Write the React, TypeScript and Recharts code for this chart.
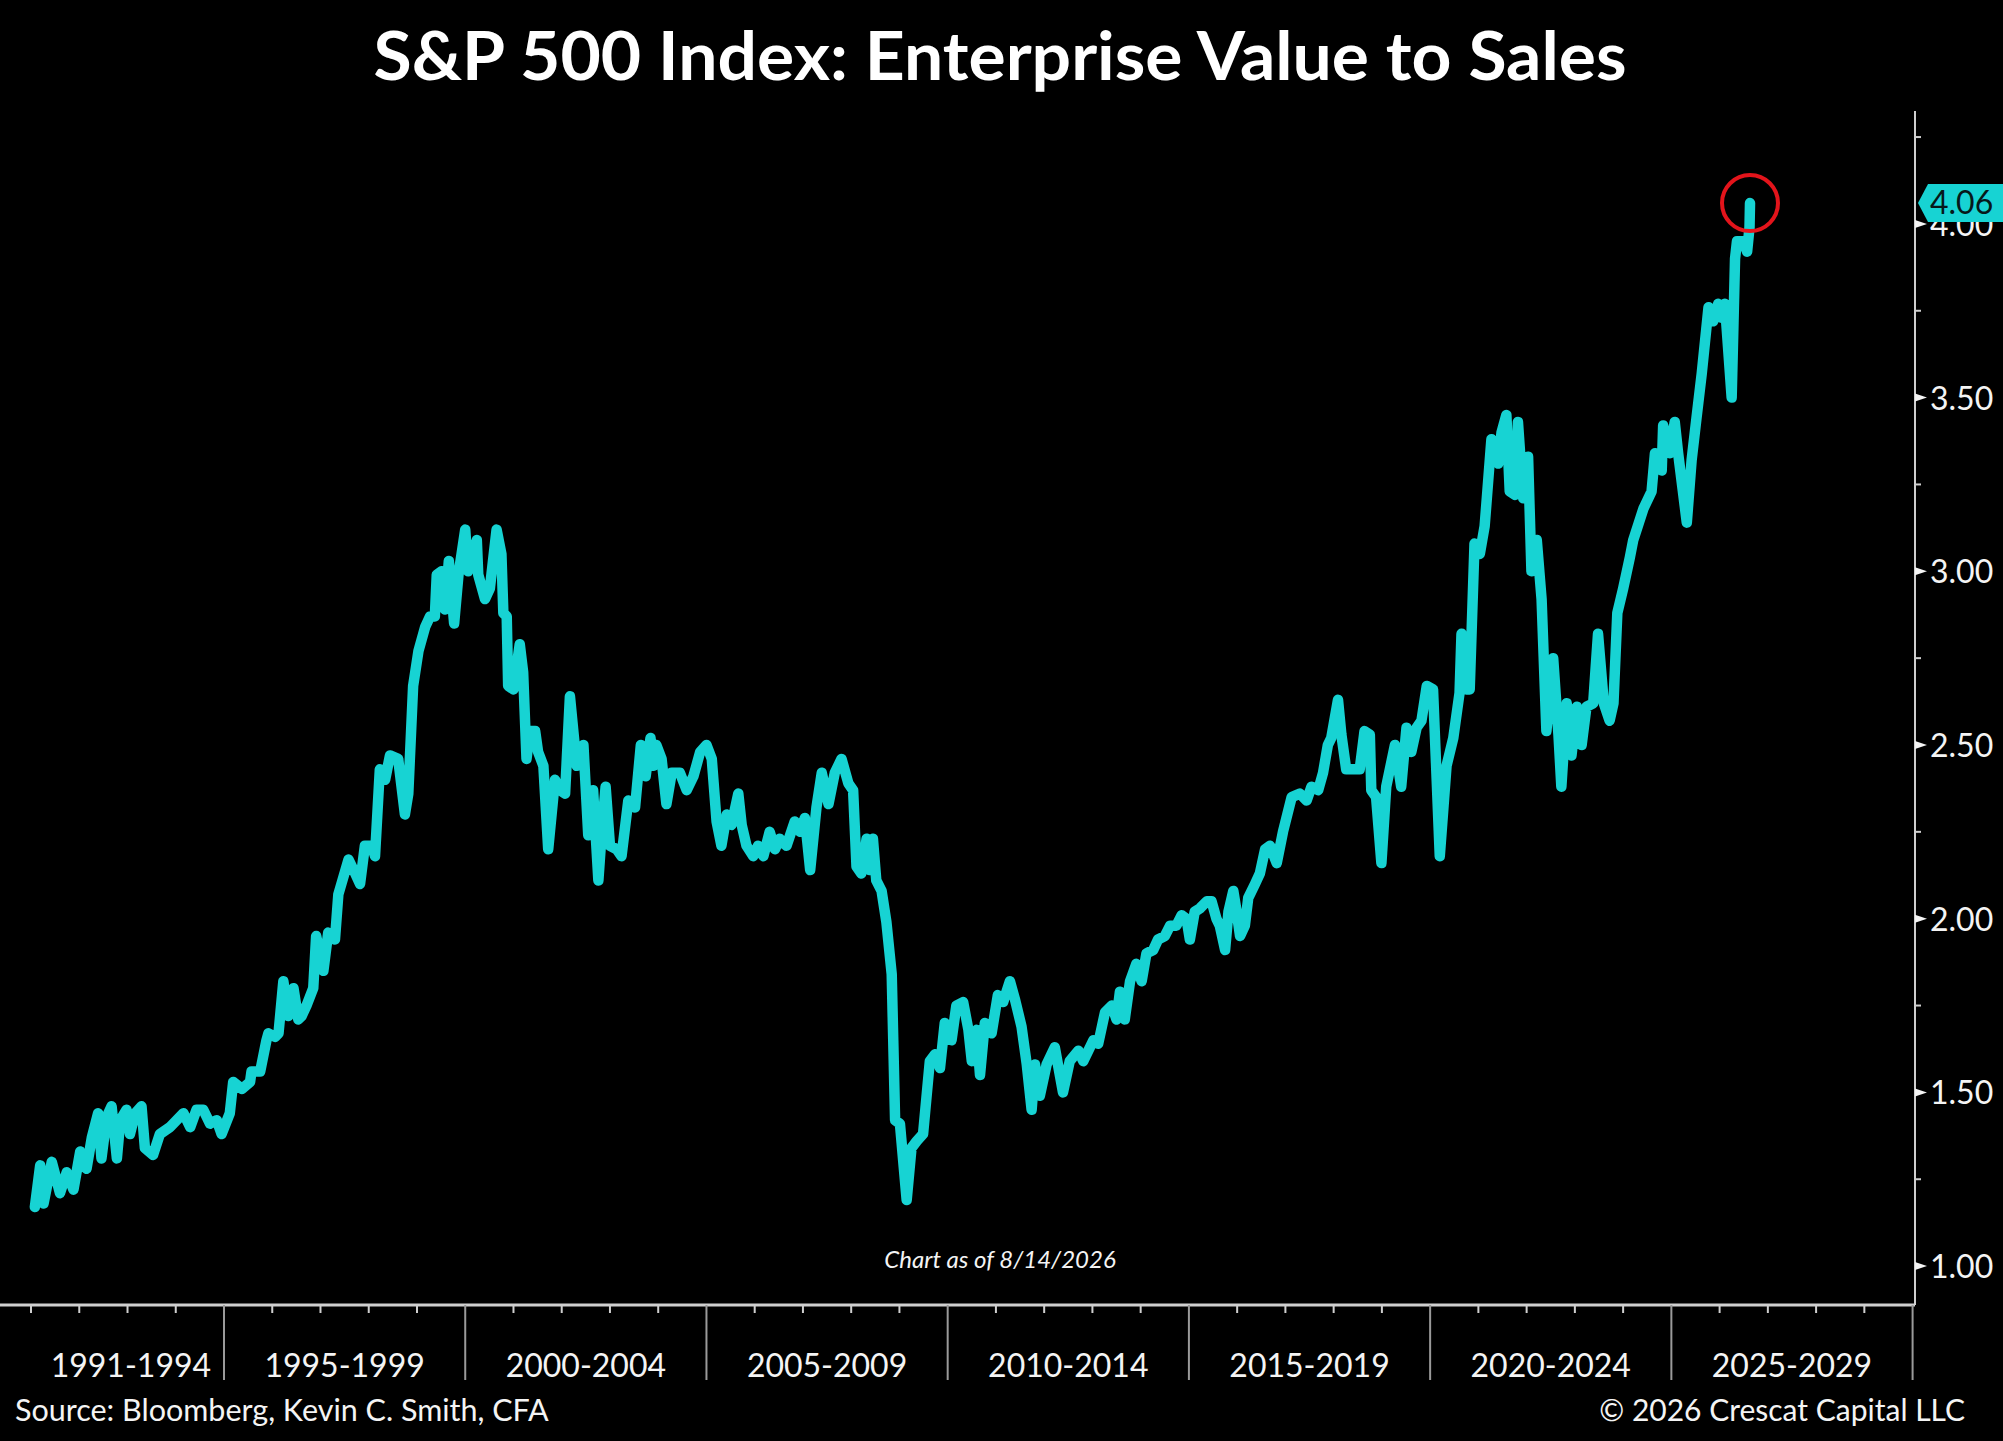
import { Line, LineChart, ReferenceDot, XAxis, YAxis } from "recharts";

// S&P 500 EV/Sales (decimal year, ratio)
const dates = [
  1991.08, 1991.19, 1991.26, 1991.43, 1991.6, 1991.74, 1991.88, 1992.02, 1992.15, 1992.26,
  1992.39, 1992.46, 1992.57, 1992.67, 1992.78, 1992.85, 1992.98, 1993.05, 1993.16, 1993.29,
  1993.36, 1993.53, 1993.67, 1993.88, 1994.02, 1994.16, 1994.3, 1994.43, 1994.57, 1994.71,
  1994.85, 1994.95, 1995.12, 1995.19, 1995.37, 1995.54, 1995.57, 1995.75, 1995.88, 1995.92,
  1996.06, 1996.13, 1996.23, 1996.33, 1996.44, 1996.54, 1996.61, 1996.71, 1996.85, 1996.91,
  1997.06, 1997.16, 1997.3, 1997.37, 1997.58, 1997.72, 1997.82, 1997.92, 1998.06, 1998.13,
  1998.23, 1998.34, 1998.44, 1998.61, 1998.75, 1998.82, 1998.92, 1999.03, 1999.17, 1999.27,
  1999.37, 1999.41, 1999.51, 1999.58, 1999.66, 1999.77, 1999.86, 2000.0, 2000.06, 2000.24,
  2000.27, 2000.41, 2000.51, 2000.65, 2000.75, 2000.79, 2000.86, 2000.89, 2001.0, 2001.13,
  2001.2, 2001.27, 2001.34, 2001.45, 2001.51, 2001.62, 2001.72, 2001.86, 2001.96, 2002.07,
  2002.17, 2002.31, 2002.45, 2002.55, 2002.65, 2002.76, 2002.83, 2002.91, 2003.0, 2003.14,
  2003.24, 2003.38, 2003.52, 2003.64, 2003.74, 2003.84, 2003.9, 2003.96, 2004.07, 2004.17,
  2004.28, 2004.45, 2004.59, 2004.73, 2004.87, 2005.0, 2005.11, 2005.21, 2005.31, 2005.42,
  2005.52, 2005.66, 2005.73, 2005.83, 2005.97, 2006.07, 2006.18, 2006.31, 2006.42, 2006.52,
  2006.66, 2006.83, 2006.94, 2007.04, 2007.15, 2007.28, 2007.39, 2007.53, 2007.66, 2007.8,
  2007.94, 2008.04, 2008.11, 2008.21, 2008.32, 2008.38, 2008.45, 2008.52, 2008.63, 2008.73,
  2008.84, 2008.91, 2009.01, 2009.15, 2009.25, 2009.36, 2009.49, 2009.63, 2009.74, 2009.84,
  2009.94, 2010.08, 2010.18, 2010.32, 2010.43, 2010.5, 2010.6, 2010.67, 2010.77, 2010.91,
  2011.04, 2011.15, 2011.29, 2011.39, 2011.53, 2011.64, 2011.74, 2011.81, 2011.91, 2012.05,
  2012.22, 2012.39, 2012.53, 2012.71, 2012.81, 2013.02, 2013.12, 2013.26, 2013.4, 2013.5,
  2013.57, 2013.67, 2013.78, 2013.91, 2014.02, 2014.12, 2014.26, 2014.36, 2014.5, 2014.61,
  2014.74, 2014.85, 2014.95, 2015.02, 2015.12, 2015.23, 2015.37, 2015.47, 2015.57, 2015.64,
  2015.75, 2015.82, 2015.92, 2015.99, 2016.06, 2016.16, 2016.23, 2016.37, 2016.47, 2016.58,
  2016.68, 2016.82, 2016.95, 2017.13, 2017.3, 2017.44, 2017.54, 2017.68, 2017.78, 2017.88,
  2017.95, 2018.09, 2018.16, 2018.26, 2018.44, 2018.54, 2018.64, 2018.75, 2018.78, 2018.88,
  2018.99, 2019.09, 2019.27, 2019.4, 2019.51, 2019.61, 2019.72, 2019.82, 2019.93, 2020.06,
  2020.2, 2020.34, 2020.48, 2020.61, 2020.65, 2020.75, 2020.82, 2020.92, 2021.03, 2021.13,
  2021.27, 2021.41, 2021.48, 2021.58, 2021.65, 2021.76, 2021.82, 2021.93, 2022.03, 2022.1,
  2022.21, 2022.31, 2022.41, 2022.55, 2022.66, 2022.72, 2022.83, 2022.93, 2023.04, 2023.14,
  2023.24, 2023.38, 2023.48, 2023.6, 2023.72, 2023.8, 2023.88, 2024.0, 2024.14, 2024.21,
  2024.42, 2024.59, 2024.66, 2024.8, 2024.83, 2024.97, 2025.07, 2025.14, 2025.32, 2025.42,
  2025.52, 2025.63, 2025.77, 2025.87, 2025.97, 2026.04, 2026.11, 2026.25, 2026.32, 2026.36,
  2026.49, 2026.57, 2026.62, 2026.63,
];

const evSales = [
  1.17, 1.29, 1.18, 1.3, 1.21, 1.27, 1.22, 1.33, 1.28, 1.37,
  1.44, 1.31, 1.43, 1.46, 1.31, 1.42, 1.45, 1.38, 1.44, 1.46,
  1.34, 1.32, 1.38, 1.4, 1.42, 1.44, 1.4, 1.45, 1.45, 1.41,
  1.42, 1.38, 1.44, 1.53, 1.51, 1.53, 1.56, 1.56, 1.65, 1.67,
  1.66, 1.67, 1.82, 1.72, 1.8, 1.71, 1.72, 1.75, 1.8, 1.95,
  1.85, 1.96, 1.94, 2.07, 2.17, 2.13, 2.1, 2.21, 2.21, 2.18,
  2.43, 2.4, 2.47, 2.46, 2.3, 2.36, 2.67, 2.77, 2.84, 2.87,
  2.87, 2.99, 3.0, 2.89, 3.03, 2.85, 2.99, 3.12, 3.0, 3.09,
  2.99, 2.92, 2.95, 3.12, 3.05, 2.88, 2.87, 2.67, 2.66, 2.79,
  2.71, 2.46, 2.54, 2.54, 2.48, 2.44, 2.2, 2.4, 2.37, 2.36,
  2.64, 2.44, 2.5, 2.24, 2.37, 2.11, 2.25, 2.38, 2.21, 2.2,
  2.18, 2.34, 2.32, 2.5, 2.41, 2.52, 2.44, 2.5, 2.46, 2.33,
  2.42, 2.42, 2.37, 2.41, 2.48, 2.5, 2.46, 2.28, 2.21, 2.3,
  2.27, 2.36, 2.27, 2.21, 2.18, 2.21, 2.18, 2.25, 2.2, 2.23,
  2.21, 2.28, 2.25, 2.29, 2.14, 2.32, 2.42, 2.33, 2.42, 2.46,
  2.39, 2.37, 2.15, 2.13, 2.23, 2.14, 2.23, 2.11, 2.08, 1.99,
  1.84, 1.42, 1.41, 1.19, 1.34, 1.36, 1.38, 1.59, 1.61, 1.57,
  1.7, 1.65, 1.75, 1.76, 1.68, 1.59, 1.68, 1.55, 1.7, 1.67,
  1.78, 1.76, 1.82, 1.77, 1.69, 1.58, 1.45, 1.58, 1.49, 1.58,
  1.63, 1.5, 1.59, 1.62, 1.59, 1.65, 1.64, 1.73, 1.75, 1.71,
  1.79, 1.71, 1.82, 1.87, 1.82, 1.9, 1.91, 1.94, 1.95, 1.98,
  1.98, 2.01, 2.0, 1.94, 2.02, 2.03, 2.05, 2.05, 2.0, 1.98,
  1.91, 2.02, 2.08, 2.02, 1.95, 1.98, 2.06, 2.1, 2.13, 2.2,
  2.21, 2.16, 2.25, 2.35, 2.36, 2.34, 2.38, 2.37, 2.42, 2.5,
  2.52, 2.63, 2.53, 2.43, 2.43, 2.43, 2.54, 2.53, 2.37, 2.35,
  2.16, 2.38, 2.5, 2.38, 2.55, 2.48, 2.55, 2.57, 2.67, 2.66,
  2.18, 2.44, 2.52, 2.65, 2.82, 2.66, 2.66, 3.08, 3.05, 3.13,
  3.38, 3.31, 3.4, 3.45, 3.23, 3.22, 3.43, 3.21, 3.33, 3.0,
  3.09, 2.92, 2.54, 2.75, 2.53, 2.38, 2.62, 2.47, 2.61, 2.5,
  2.61, 2.62, 2.82, 2.62, 2.57, 2.62, 2.88, 2.95, 3.04, 3.09,
  3.18, 3.23, 3.34, 3.29, 3.42, 3.34, 3.43, 3.34, 3.14, 3.32,
  3.44, 3.57, 3.76, 3.72, 3.77, 3.73, 3.77, 3.5, 3.9, 3.95,
  3.95, 3.92, 3.99, 4.06,
];

const periodLabels = [
  "1991-1994",
  "1995-1999",
  "2000-2004",
  "2005-2009",
  "2010-2014",
  "2015-2019",
  "2020-2024",
  "2025-2029",
];
const periodCenters = [1993.07, 1997.5, 2002.5, 2007.5, 2012.5, 2017.5, 2022.5, 2027.5];
const yearTicks = Array.from({ length: 40 }, (_, i) => 1991 + i);

const majorTicks = [1.0, 1.5, 2.0, 2.5, 3.0, 3.5, 4.0];
const minorTicks = [1.25, 1.75, 2.25, 2.75, 3.25, 3.75, 4.25];

const CYAN = "#17d3d3";
const AXIS = "#cfcfcf";
const FONT = "Lato, 'Open Sans', sans-serif";

const data = dates.map((t, i) => ({ t, v: evSales[i] }));
const last = data[data.length - 1];

function XTick(props: any) {
  const { x, y, payload } = props;
  const value = payload.value;
  const li = periodCenters.indexOf(value);
  if (li >= 0) {
    return (
      <text
        x={x}
        y={y + 72}
        textAnchor="middle"
        fill="#f4f4f4"
        fontSize={32}
        fontFamily={FONT}
      >
        {periodLabels[li]}
      </text>
    );
  }
  const long = value % 5 === 0;
  return (
    <line
      x1={x}
      x2={x}
      y1={y}
      y2={long ? y + 75 : y + 8}
      stroke={long ? "#9a9a9a" : AXIS}
      strokeWidth={2}
    />
  );
}

function YTick(props: any) {
  const { x, y, payload } = props;
  const value = payload.value;
  if (value === last.v) {
    // last-value tag, drawn over the 4.00 label as in the source chart
    return (
      <g>
        <polygon
          points={`${x + 3},${y} ${x + 13},${y - 19} ${x + 95},${y - 19} ${x + 95},${y + 19} ${x + 13},${y + 19}`}
          fill={CYAN}
        />
        <text
          x={x + 15}
          y={y + 11}
          fill="#06191a"
          fontSize={32}
          fontFamily={FONT}
        >
          {value.toFixed(2)}
        </text>
      </g>
    );
  }
  if (majorTicks.includes(value)) {
    return (
      <g>
        <polygon points={`${x},${y - 4} ${x + 12},${y} ${x},${y + 4}`} fill="#f4f4f4" />
        <text x={x + 15} y={y + 12} fill="#f4f4f4" fontSize={32} fontFamily={FONT}>
          {value.toFixed(2)}
        </text>
      </g>
    );
  }
  return <line x1={x} x2={x + 6} y1={y} y2={y} stroke={AXIS} strokeWidth={2} />;
}

export default function App() {
  return (
    <div
      style={{
        position: "absolute",
        left: 0,
        top: 0,
        width: 2003,
        height: 1441,
        background: "#000",
        overflow: "hidden",
      }}
    >
      <LineChart
        width={2003}
        height={1441}
        data={data}
        margin={{ top: 111, right: 0, bottom: 0, left: 0 }}
      >
        <XAxis
          dataKey="t"
          type="number"
          domain={[1990.357, 2030.05]}
          allowDataOverflow
          ticks={[...yearTicks, ...periodCenters]}
          interval={0}
          height={136}
          tickSize={0}
          tickMargin={0}
          tickLine={false}
          axisLine={{ stroke: AXIS, strokeWidth: 3 }}
          tick={(p: any) => <XTick {...p} />}
        />
        <YAxis
          orientation="right"
          type="number"
          domain={[0.888, 4.325]}
          allowDataOverflow
          ticks={[...minorTicks, ...majorTicks, last.v]}
          interval={0}
          width={88}
          tickSize={0}
          tickMargin={0}
          tickLine={false}
          axisLine={{ stroke: AXIS, strokeWidth: 2 }}
          tick={(p: any) => <YTick {...p} />}
        />
        <Line
          type="linear"
          dataKey="v"
          stroke={CYAN}
          strokeWidth={10.5}
          strokeLinejoin="round"
          strokeLinecap="round"
          dot={false}
          activeDot={false}
          isAnimationActive={false}
        />
        <ReferenceDot
          x={last.t}
          y={last.v}
          r={28}
          fill="none"
          stroke="#e3141b"
          strokeWidth={4}
          ifOverflow="visible"
        />
      </LineChart>
      <svg
        width={2003}
        height={1441}
        style={{ position: "absolute", left: 0, top: 0, pointerEvents: "none" }}
      >
        <text
          x={1000}
          y={80}
          textAnchor="middle"
          fill="#fff"
          fontSize={66}
          fontWeight={700}
          fontFamily={FONT}
          textLength={1253}
          lengthAdjust="spacingAndGlyphs"
        >
          S&amp;P 500 Index: Enterprise Value to Sales
        </text>
        <text
          x={1000}
          y={1268}
          textAnchor="middle"
          fill="#f4f4f4"
          fontSize={24}
          fontStyle="italic"
          fontFamily={FONT}
        >
          Chart as of 8/14/2026
        </text>
        <text x={15} y={1421} fill="#f4f4f4" fontSize={30.5} fontFamily={FONT}>
          Source: Bloomberg, Kevin C. Smith, CFA
        </text>
        <text
          x={1965}
          y={1421}
          textAnchor="end"
          fill="#f4f4f4"
          fontSize={30}
          fontFamily={FONT}
        >
          © 2026 Crescat Capital LLC
        </text>
      </svg>
    </div>
  );
}
